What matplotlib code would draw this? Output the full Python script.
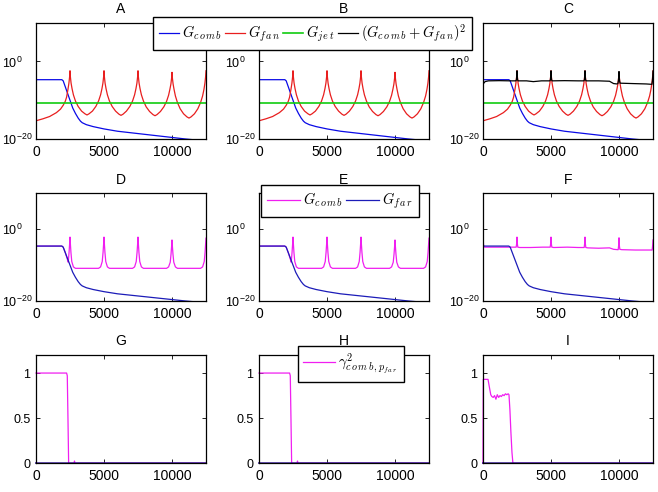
import numpy as np
import matplotlib.pyplot as plt
from matplotlib.ticker import FixedLocator, NullLocator

plt.rcParams['font.family'] = ['Liberation Sans', 'DejaVu Sans']
plt.rcParams['font.size'] = 10
plt.rcParams['mathtext.fontset'] = 'custom'
plt.rcParams['mathtext.rm'] = 'Liberation Sans'
plt.rcParams['mathtext.it'] = 'Liberation Sans:italic'

# ---- data (log panels keep log10 exponents) ----
comb_x = [0, 1900, 2000, 2150, 2350, 2530, 2700, 2900, 3100, 3270, 3400, 3700, 4200,
          5000, 6000, 7500, 9000, 10000, 11000, 12500]
comb_exp = [-4.7, -4.7, -5.0, -6.5, -8.5, -10.3, -12.0, -13.4, -14.6, -15.4, -15.8, -16.3,
            -16.8, -17.4, -18.0, -18.6, -19.2, -19.6, -20.0, -20.5]

fan_x = [0, 500, 1000, 1500, 1800, 2000, 2150, 2250, 2350, 2420, 2470, 2500,
         2530, 2580, 2650, 2750, 2900, 3100, 3350, 3600, 3750, 3900, 4150, 4400, 4600, 4750, 4850, 4920, 4970, 5000,
         5030, 5080, 5150, 5250, 5400, 5600, 5850, 6100, 6250, 6400, 6650, 6900, 7100, 7250, 7350, 7420, 7470, 7500,
         7530, 7580, 7650, 7750, 7900, 8100, 8350, 8600, 8750, 8900, 9150, 9400, 9600, 9750, 9850, 9920, 9970, 10000,
         10030, 10080, 10150, 10250, 10400, 10600, 10850, 11100, 11250, 11400, 11650, 11900, 12100, 12250, 12350,
         12420, 12470, 12500]
fan_exp = [-15.3, -14.8, -14.2, -13.2, -12.3, -11.3, -10.3, -9.2, -7.2, -5.6, -4.0, -2.4,
           -4.0, -5.6, -7.0, -8.6, -10.2, -11.6, -12.8, -13.5, -13.8, -13.5, -12.8, -11.6, -10.2, -8.6, -7.0, -5.6, -4.0, -2.4,
           -4.0, -5.6, -7.0, -8.6, -10.2, -11.6, -12.8, -13.6, -13.9, -13.6, -12.8, -11.6, -10.2, -8.6, -7.0, -5.6, -4.0, -2.4,
           -4.0, -5.6, -7.0, -8.6, -10.2, -11.7, -12.9, -13.7, -14.0, -13.7, -12.9, -11.7, -10.3, -8.7, -7.1, -5.8, -4.3, -2.8,
           -4.3, -5.8, -7.2, -8.9, -10.6, -12.2, -13.5, -14.3, -14.6, -14.3, -13.5, -12.2, -10.6, -8.9, -7.2,
           -5.6, -4.0, -2.4]

jet_x = [0, 12500]
jet_exp = [-10.8, -10.8]

sum_x = [0, 150, 400, 1200, 2000, 2420, 2460, 2480, 2500, 2520, 2540, 2580, 3200, 3700, 4300,
         4920, 4960, 4980, 5000, 5020, 5040, 5080, 6000, 7000, 7420, 7460, 7480, 7500, 7520, 7540, 7580,
         8500, 9300, 9600, 9850, 9920, 9960, 9980, 10000, 10020, 10040, 10080, 11000, 12000,
         12420, 12460, 12480, 12500]
sum_exp = [-5.85, -5.2, -5.0, -4.95, -5.0, -5.0, -4.7, -3.8, -2.4, -3.8, -4.7, -5.0, -5.0, -5.2, -5.0,
           -5.0, -4.7, -3.8, -2.4, -3.8, -4.7, -5.0, -4.95, -5.0, -5.0, -4.7, -3.8, -2.4, -3.8, -4.7, -5.0,
           -5.0, -5.1, -5.7, -5.8, -5.7, -4.9, -3.9, -2.6, -4.0, -5.0, -5.6, -5.7, -5.8,
           -5.9, -5.0, -3.9, -2.5]

combd_x = [0, 1900, 2000, 2150, 2300, 2370, 2430, 2470, 2500, 2530, 2570, 2630, 2750, 2900,
           4600, 4750, 4870, 4930, 4970, 5000, 5030, 5070, 5130, 5250, 5400,
           7100, 7250, 7370, 7430, 7470, 7500, 7530, 7570, 7630, 7750, 7900,
           9600, 9750, 9870, 9930, 9970, 10000, 10030, 10070, 10130, 10250, 10400,
           12100, 12250, 12370, 12430, 12470, 12500]
combd_exp = [-4.7, -4.7, -5.0, -6.5, -8.3, -9.2, -6.5, -4.2, -2.2, -4.2, -6.5, -9.0, -10.5, -10.9,
             -10.9, -10.5, -9.0, -6.5, -4.2, -2.2, -4.2, -6.5, -9.0, -10.5, -10.9,
             -10.9, -10.5, -9.0, -6.5, -4.2, -2.2, -4.2, -6.5, -9.0, -10.5, -10.9,
             -10.9, -10.5, -9.2, -6.9, -4.8, -3.0, -4.8, -6.9, -9.2, -10.5, -10.9,
             -10.9, -10.5, -9.0, -6.5, -4.2, -2.5]

combf_x = [0, 40, 100, 1000, 2000, 2440, 2475, 2500, 2525, 2560, 2700, 3500, 4400,
           4940, 4975, 5000, 5025, 5060, 5200, 6200, 7000, 7440, 7475, 7500, 7525, 7560,
           7700, 8500, 9300, 9600, 9900, 9940, 9975, 10000, 10025, 10060, 10200, 11200, 12300,
           12440, 12475, 12500]
combf_exp = [-2.1, -4.4, -5.0, -5.0, -5.0, -5.0, -4.0, -2.2, -4.0, -5.0, -5.1, -5.1, -5.0,
             -5.0, -4.0, -2.2, -4.0, -5.0, -5.1, -5.0, -5.1, -5.1, -4.0, -2.2, -4.0, -5.1,
             -5.2, -5.3, -5.2, -5.6, -5.7, -5.7, -4.5, -2.4, -4.5, -5.6, -5.7, -5.8, -5.8,
             -5.8, -4.5, -3.0]

coh_x = [0, 2250, 2300, 2350, 2400, 2800, 2830, 2860, 12500]
coh_y = [1.0, 1.0, 0.97, 0.5, 0.0, 0.0, 0.025, 0.0, 0.0]

cohi_x = [0, 20, 370, 450, 570, 650, 750, 850, 950, 1050, 1150, 1250, 1350, 1450, 1550,
          1650, 1750, 1850, 1910, 1980, 2050, 2130, 2200, 12500]
cohi_y = [0.0, 0.93, 0.93, 0.86, 0.76, 0.74, 0.73, 0.75, 0.71, 0.76, 0.73, 0.75, 0.74, 0.76, 0.75,
          0.77, 0.76, 0.77, 0.76, 0.59, 0.35, 0.12, 0.0, 0.0]

zero_x = [0, 12500]
zero_y = [0.0, 0.0]

titles = ['A', 'B', 'C', 'D', 'E', 'F', 'G', 'H', 'I']

BLUE = '#0a0ae6'
NAVY = '#1c1cb8'
RED = '#e81e1e'
GREEN = '#10cc10'
MAG = '#f01ef0'

W, H = 658, 492
fig = plt.figure(figsize=(W / 100, H / 100), dpi=100)

col_left = [36, 259, 483]
col_w = 170
rows = [(22.7, 139), (193.3, 301), (355, 463.3)]


def pow10(v):
    return np.power(10.0, np.asarray(v))


def make_ax(r, c):
    top, bot = rows[r]
    ax = fig.add_axes([col_left[c] / W, 1 - bot / H, col_w / W, (bot - top) / H])
    ax.set_xlim(0, 12500)
    ax.set_xticks([0, 5000, 10000])
    ax.set_xticklabels(['0', '5000', '10000'])
    ax.tick_params(direction='in', top=True, right=True, length=3, width=0.6)
    ax.tick_params(axis='x', pad=4, labelsize=10)
    ax.set_title(titles[3 * r + c], fontsize=10, pad=7)
    for s in ax.spines.values():
        s.set_linewidth(0.9)
    return ax


def log_style(ax):
    ax.set_yscale('log')
    ax.set_ylim(1e-20, 1e10)
    ax.yaxis.set_major_locator(FixedLocator([1e-20, 1e0]))
    ax.yaxis.set_minor_locator(NullLocator())
    ax.set_yticklabels([r'$10^{-20}$', r'$10^{0}$'], ha='left', fontsize=9)
    ax.tick_params(axis='y', pad=24.5)


lw = 0.9
row1_handles = None
for c in range(3):
    ax = make_ax(0, c)
    log_style(ax)
    h1, = ax.plot(comb_x, pow10(comb_exp), color=BLUE, lw=lw)
    h2, = ax.plot(fan_x, pow10(fan_exp), color=RED, lw=lw)
    h3, = ax.plot(jet_x, pow10(jet_exp), color=GREEN, lw=1.2)
    h4, = ax.plot([], [], color='black', lw=lw)
    if c == 2:
        ax.plot(sum_x, pow10(sum_exp), color='black', lw=lw)
    if row1_handles is None:
        row1_handles = [h1, h2, h3, h4]

row2_handles = None
for c in range(3):
    ax = make_ax(1, c)
    log_style(ax)
    if c == 2:
        m, = ax.plot(combf_x, pow10(combf_exp), color=MAG, lw=lw)
    else:
        m, = ax.plot(combd_x, pow10(combd_exp), color=MAG, lw=lw)
    b, = ax.plot(comb_x, pow10(comb_exp), color=NAVY, lw=lw)
    if row2_handles is None:
        row2_handles = [m, b]

row3_handle = None
for c in range(3):
    ax = make_ax(2, c)
    ax.set_ylim(0, 1.2)
    ax.set_yticks([0, 0.5, 1])
    ax.set_yticklabels(['0', '0.5', '1'], fontsize=9)
    ax.tick_params(axis='y', pad=4)
    if c == 2:
        g, = ax.plot(cohi_x, cohi_y, color=MAG, lw=lw, clip_on=False)
    else:
        g, = ax.plot(coh_x, coh_y, color=MAG, lw=lw, clip_on=False)
    ax.plot(zero_x, zero_y, color='#2a0a9a', lw=1.4, alpha=0.7, clip_on=False)
    if row3_handle is None:
        row3_handle = g

leg_prop = {'size': 10.4, 'math_fontfamily': 'cm'}
leg_kw = dict(frameon=True, fancybox=False, edgecolor='black', framealpha=1,
              handletextpad=0.2, columnspacing=0.2,
              borderpad=0.4, borderaxespad=0, prop=leg_prop)

l1 = fig.legend(row1_handles,
                [r'$G_{c\,o\,m\,b}$', r'$G_{f\,a\,n}$', r'$G_{j\,e\,t}$',
                 r'$(G_{c\,o\,m\,b}+G_{f\,a\,n})^2$'],
                loc='upper left', bbox_to_anchor=(153 / W, 1 - 16.7 / H), ncol=4,
                handlelength=1.4, **leg_kw)
l1.get_frame().set_linewidth(1.0)

l2 = fig.legend(row2_handles, [r'$G_{c\,o\,m\,b}$', r'$G_{f\,a\,r}$'],
                loc='upper left', bbox_to_anchor=(261 / W, 1 - 185 / H), ncol=2,
                handlelength=2.3, **leg_kw)
l2.get_frame().set_linewidth(1.0)

l3 = fig.legend([row3_handle], [r'$\gamma^2_{c\,o\,m\,b\,,p_{f\,a\,r}}$'],
                loc='upper left', bbox_to_anchor=(297.7 / W, 1 - 346 / H),
                handlelength=2.2, **leg_kw)
l3.get_frame().set_linewidth(1.0)

fig.savefig('out.png', dpi=100)
